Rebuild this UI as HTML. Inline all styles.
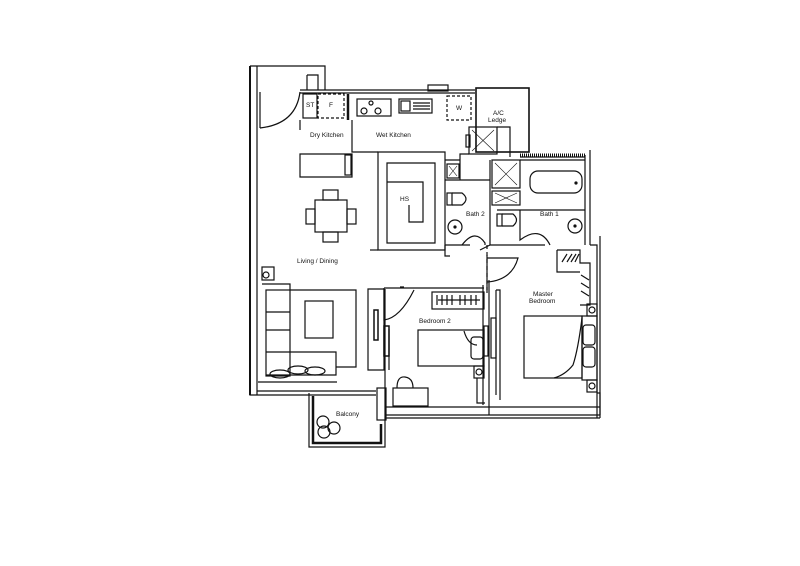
<!DOCTYPE html>
<html><head><meta charset="utf-8"><style>
html,body{margin:0;padding:0;background:#fff;width:800px;height:566px;overflow:hidden}
svg{display:block}
text{font-family:"Liberation Sans",sans-serif;font-size:6.5px;fill:#111}
</style></head><body>
<svg width="800" height="566" viewBox="0 0 800 566" xmlns="http://www.w3.org/2000/svg">
<g fill="none" stroke="#111" stroke-width="1.2">
<!-- outer left wall -->
<path d="M250 66 L325 66 L325 90 M257 66 L257 395 M250 66 L250 395 L257 395"/>
<path d="M307 75 L318 75 L318 90 M307 75 L307 90"/>
<!-- entrance door -->
<path d="M260 92 L260 128 M260 128 Q296 124 300 92"/>
<!-- kitchen top wall -->
<path d="M300 90 L475 90 M300 93 L475 93" />
<rect x="428" y="85" width="20" height="6"/>
<!-- ST / F / stove / sink / W -->
<rect x="303" y="94" width="14" height="24"/>
<rect x="318" y="94" width="26" height="24" stroke-dasharray="3,2"/>
<rect x="347" y="94" width="12" height="24" fill="#111" stroke="none" style="display:none"/>
<path d="M348 94 L348 120" stroke-width="2.5"/>
<rect x="357" y="99" width="34" height="17"/>
<circle cx="371" cy="103" r="2"/><circle cx="364" cy="111" r="3"/><circle cx="378" cy="111" r="3"/>
<rect x="399" y="99" width="33" height="14"/>
<rect x="401" y="101" width="9" height="10"/>
<path d="M413 103 L430 103 M413 106 L430 106 M413 109 L430 109"/>
<rect x="447" y="96" width="24" height="24" stroke-dasharray="3,2"/>
<!-- AC ledge -->
<rect x="476" y="88" width="53" height="64" stroke-width="1.6"/>
<!-- kitchen lower -->
<path d="M352 120 L352 152 L378 152 M300 120 L300 130"/>
<path d="M300 154 L352 154 L352 177 L300 177 Z"/>
<rect x="345" y="155" width="6" height="20"/>
<!-- HS -->
<path d="M378 152 L445 152 L445 250 L378 250 Z"/>
<path d="M387 163 L435 163 L435 243 L387 243 Z"/>
<path d="M387 182 L423 182 L423 222 L409 222 L409 205"/>
<!-- shafts -->
<rect x="469" y="127" width="28" height="27"/>
<path d="M472 130 L494 151 M494 130 L472 151" stroke-width="0.6"/>
<rect x="466" y="135" width="4" height="12"/>
<path d="M497 127 L510 127 L510 157 M469 154 L460 154 L460 180 M445 160 L460 160 L460 180"/>
<rect x="447" y="164" width="12" height="14"/>
<path d="M449 166 L457 176 M457 166 L449 176" stroke-width="0.6"/>
<rect x="492" y="160" width="28" height="28"/>
<path d="M495 163 L517 185 M517 163 L495 185" stroke-width="0.6"/>
<rect x="492" y="191" width="28" height="14"/>
<path d="M495 193 L517 203 M517 193 L495 203" stroke-width="0.6"/>
<!-- bath 2 -->
<path d="M445 180 L490 180 M490 160 L490 245 M445 245 L470 245"/>
<rect x="447" y="193" width="5" height="12"/><path d="M452 193 L462 193 Q470 199 462 205 L452 205"/>
<circle cx="455" cy="227" r="7"/><circle cx="455" cy="227" r="1" fill="#111"/>
<path d="M462 245 Q475 228 485 243 L485 245"/>
<!-- bath 1 -->
<path d="M520 157 L585 157 M520 160 L585 160" />
<path d="M520 155 L585 155" stroke-width="3" stroke-dasharray="1,1"/>
<path d="M585 155 L585 245 M590 150 L590 245"/>
<rect x="530" y="171" width="52" height="22" rx="8"/>
<circle cx="576" cy="183" r="1" fill="#111"/>
<path d="M497 210 L585 210"/>
<rect x="497" y="214" width="5" height="12"/><path d="M502 214 L513 214 Q520 220 513 226 L502 226"/>
<circle cx="575" cy="226" r="7"/><circle cx="575" cy="226" r="1" fill="#111"/>
<path d="M520 210 L520 240 Q540 225 550 245"/>
<path d="M490 245 L545 245 M480 250 L490 245"/>
<!-- right wall -->
<path d="M590 245 L597 245 L597 418 M600 236 L600 418"/>
<!-- master wardrobe -->
<path d="M557 250 L580 250 L580 263 L590 263 L590 305 L580 305 M557 250 L557 272 L580 272"/>
<path d="M562 262 L567 254 M567 262 L572 254 M571 262 L576 254 M575 262 L579 254 M581 275 L589 280 M581 283 L589 288 M581 291 L589 296"/>
<rect x="587" y="304" width="10" height="12"/><circle cx="592" cy="310" r="3"/>
<rect x="587" y="380" width="10" height="12"/><circle cx="592" cy="386" r="3"/>
<!-- master bed -->
<rect x="524" y="316" width="58" height="62"/>
<rect x="582" y="316" width="15" height="64"/>
<rect x="583" y="325" width="12" height="20" rx="3"/><rect x="583" y="347" width="12" height="20" rx="3"/>
<path d="M582 318 Q578 350 573 365 Q565 375 554 378"/>
<!-- master door -->
<path d="M487 255 L487 293 M487 282 Q512 280 518 258 L487 258"/>
<path d="M487 245 L487 290" stroke-dasharray="4,3"/>
<path d="M489 280 L489 415 M496 290 L500 290 L500 400 M496 290 L496 395"/>
<rect x="491" y="318" width="5" height="40"/>
<!-- bottom wall -->
<path d="M385 407 L600 407 M385 415 L600 415 M385 418 L600 418"/>
<path d="M597 393 L600 393 L600 415"/>
<!-- bedroom 2 -->
<path d="M384 288 L484 288 M400 287 L404 287"/>
<path d="M384 288 L384 320 Q400 318 414 290"/>
<rect x="432" y="292" width="52" height="17"/>
<path d="M437 295 L437 305 M442 295 L442 305 M447 295 L447 305 M452 295 L452 305 M460 295 L460 305 M465 295 L465 305 M471 295 L471 305 M476 295 L476 305 M438 300 L480 300"/>
<rect x="418" y="330" width="66" height="36"/>
<rect x="471" y="337" width="12" height="22" rx="3"/>
<path d="M464 331 Q468 345 477 345"/>
<rect x="474" y="366" width="10" height="12"/><circle cx="479" cy="372" r="3"/>
<path d="M483 285 L483 405 M477 378 L477 403 L485 403"/>
<rect x="484" y="326" width="4" height="30"/>
<rect x="393" y="388" width="35" height="18"/>
<path d="M397 388 Q397 376 405 377 Q413 378 413 388"/>
<!-- wall between living & bed2 -->
<path d="M368 289 L384 289 L384 370 L368 370 Z"/>
<rect x="374" y="310" width="4" height="30" stroke-width="1.5"/>
<path d="M385 289 L385 420 M389 329 L389 370"/>
<rect x="384" y="326" width="5" height="30" stroke-width="1.5"/>
<!-- living -->
<rect x="262" y="267" width="12" height="13"/><circle cx="266" cy="275" r="3"/>
<path d="M262 284 L290 284 L290 290 L356 290 L356 367 L336 367"/>
<rect x="266" y="290" width="24" height="86"/>
<path d="M266 312 L290 312 M266 330 L290 330 M266 352 L336 352 L336 375 L266 375"/>
<rect x="305" y="301" width="28" height="37"/>
<ellipse cx="280" cy="374" rx="10" ry="4"/><ellipse cx="298" cy="370" rx="10" ry="4"/><ellipse cx="315" cy="371" rx="10" ry="4"/>
<path d="M258 382 L337 382"/>
<path d="M257 391 L376 391 M257 395 L376 395"/>
<!-- dining -->
<rect x="315" y="200" width="32" height="32"/>
<rect x="323" y="190" width="15" height="10"/><rect x="323" y="232" width="15" height="10"/>
<rect x="306" y="209" width="9" height="15"/><rect x="347" y="209" width="9" height="15"/>
<!-- balcony -->
<path d="M309 393 L309 447 L385 447 L385 420"/>
<path d="M313 396 L313 443 L381 443 L381 424" stroke-width="2.5"/>
<rect x="377" y="388" width="9" height="32"/>
<circle cx="323" cy="422" r="6"/><circle cx="334" cy="428" r="6"/><circle cx="324" cy="432" r="6"/>
<!-- door living misc -->
<path d="M445 245 L445 256 L450 256"/>
<path d="M370 250 L378 250"/>
</g>
<path d="M250 66 L250 395" stroke="#111" stroke-width="2" fill="none"/>
<text x="493" y="115">A/C</text>
<text x="488" y="122">Ledge</text>
<text x="306" y="107" font-size="5.5">ST</text>
<text x="329" y="107" font-size="5.5">F</text>
<text x="456" y="110" font-size="5.5">W</text>
<text x="310" y="137">Dry Kitchen</text>
<text x="376" y="137">Wet Kitchen</text>
<text x="400" y="201">HS</text>
<text x="466" y="216">Bath 2</text>
<text x="540" y="216">Bath 1</text>
<text x="297" y="263">Living / Dining</text>
<text x="419" y="323">Bedroom 2</text>
<text x="533" y="296">Master</text>
<text x="529" y="303">Bedroom</text>
<text x="336" y="416">Balcony</text>
</svg>
</body></html>
